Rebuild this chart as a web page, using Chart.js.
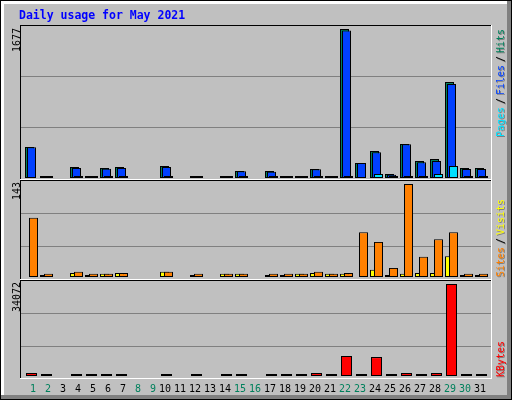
<!DOCTYPE html>
<html>
<head>
<meta charset="utf-8">
<script src="https://cdn.jsdelivr.net/npm/chart.js@4.4.0/dist/chart.umd.min.js"></script>
<style>
  html, body { margin: 0; padding: 0; background: #c0c0c0; }
  #wrap { position: relative; width: 512px; height: 400px; }
  #wrap canvas { position: absolute; left: 0; top: 0; }
</style>
</head>
<body>
<div id="wrap">
  <canvas id="c1" width="512" height="400"></canvas>
  <canvas id="c2" width="512" height="400"></canvas>
  <canvas id="c3" width="512" height="400"></canvas>
</div>
<script>
// ---- data (May 2021) ----
const days = [1,2,3,4,5,6,7,8,9,10,11,12,13,14,15,16,17,18,19,20,21,22,23,24,25,26,27,28,29,30,31];
const weekendDays = [1,2,8,9,15,16,22,23,29,30];

const hits   = [349,10,null,124,12,113,124,null,null,135,null,15,null,12,79,null,79,15,15,101,12,1677,169,304,45,383,191,214,1080,113,113];
const files  = [345,5,null,113,6,105,113,null,null,124,null,8,null,6,75,null,71,8,8,98,6,1660,169,289,37,380,177,191,1058,101,101];
const pages  = [null,3,null,8,3,8,8,null,null,8,null,3,null,3,5,null,5,3,3,6,3,8,null,45,5,8,8,45,135,8,8];
const visits = [null,1,null,6,1,5,6,null,null,8,null,1,null,5,5,null,1,1,5,6,5,5,null,11,1,5,6,6,32,1,1];
const sites  = [91,5,null,8,5,5,6,null,null,8,null,5,null,5,5,null,5,5,5,8,5,6,69,54,14,143,31,58,69,5,5];
const kbytes = [1100,300,null,300,300,300,300,null,null,300,null,300,null,300,300,null,300,300,300,1100,300,7400,300,7000,300,1100,300,1100,34072,300,300];

const yMaxLabels = ['1677', '143', '34072'];

// ---- colours ----
const GREY = '#c0c0c0', DKGREY = '#808080';
const HIT = '#00805c', FILE = '#0040ff', PAGE = '#00e0ff';
const VISIT = '#ffff00', SITE = '#ff8000', KBYTE = '#ff0000';
const MONO = '"DejaVu Sans Mono", monospace';

Chart.defaults.animation = false;
Chart.defaults.responsive = false;
Chart.defaults.plugins.legend.display = false;
Chart.defaults.plugins.tooltip.enabled = false;

// plot area is 470px wide, 15px per day
const LEFT = 21, RIGHT = 491, DAY = 15;
function dayAxis(shift, extra) {
  const min = 0.4333 - shift / DAY;
  return Object.assign({
    type: 'linear', display: false, offset: false,
    grid: { offset: false },
    min: min, max: min + (RIGHT - LEFT) / DAY
  }, extra || {});
}

// panel: area top/bottom, pixel of zero, pixel of max value, gridline rows
function valueAxis(maxVal, p) {
  const per = maxVal / (p.base - p.peak);
  return {
    type: 'linear', position: 'left',
    min: -(p.bottom - p.base) * per, max: (p.base - p.top) * per,
    afterFit: s => { s.width = 0; },
    afterBuildTicks: s => { s.ticks = p.grid.map(r => ({ value: (p.base - r - 0.5) * per })); },
    ticks: { display: false },
    grid: { color: DKGREY, drawTicks: false, lineWidth: 1 },
    border: { display: false }
  };
}

function bars(label, data, color, xAxisID, order, width) {
  return {
    label, data, xAxisID, yAxisID: 'y', order,
    backgroundColor: color, borderColor: '#000', borderWidth: 1,
    borderSkipped: false, barThickness: width || 9, minBarLength: 2,
    grouped: false, inflateAmount: 0
  };
}

const p1 = { top: 26, bottom: 179, base: 178, peak: 29, grid: [76, 127] };
const p2 = { top: 181, bottom: 279, base: 277, peak: 184, grid: [213, 246] };
const p3 = { top: 281, bottom: 378, base: 376, peak: 284, grid: [313, 346] };

function rotText(ctx, text, x, y, align) {
  ctx.save();
  ctx.translate(x, y);
  ctx.rotate(-Math.PI / 2);
  ctx.textAlign = align;
  ctx.textBaseline = 'alphabetic';
  ctx.fillText(text, 0, 0);
  ctx.restore();
}

// webalizer style legend, drawn upward with a grey shadow
function legendUp(ctx, parts, y0) {
  let y = y0;
  parts.forEach(part => {
    ctx.fillStyle = DKGREY;
    rotText(ctx, part[0], 505, y + 1, 'left');
    ctx.fillStyle = part[1];
    rotText(ctx, part[0], 504, y, 'left');
    if (part[0] === '/') y -= 9;
    else y -= part[0].length * 6 + 3;
  });
}

const framePlugin = {
  id: 'frame',
  beforeDraw(chart) {
    const ctx = chart.ctx;
    ctx.save();
    ctx.fillStyle = GREY;
    ctx.fillRect(0, 0, 512, 400);
    // outer bevel
    ctx.fillStyle = '#fff';
    ctx.fillRect(1, 1, 506, 3);
    ctx.fillRect(1, 1, 3, 394);
    ctx.fillStyle = DKGREY;
    ctx.fillRect(507, 1, 4, 398);
    ctx.fillRect(1, 395, 510, 4);
    ctx.strokeStyle = '#000';
    ctx.lineWidth = 1;
    ctx.strokeRect(0.5, 0.5, 511, 399);

    // title
    ctx.fillStyle = '#0000ff';
    ctx.font = 'bold 11.5px ' + MONO;
    ctx.textBaseline = 'alphabetic';
    ctx.fillText('Daily usage for May 2021', 19, 19);

    // panel frames
    ctx.fillStyle = '#000';
    ctx.fillRect(20, 25, 1, 354);
    [25, 180, 280].forEach(y => ctx.fillRect(20, y, 471, 1));
    ctx.fillStyle = '#fff';
    ctx.fillRect(491, 25, 1, 354);
    [179, 279, 378].forEach(y => ctx.fillRect(20, y, 472, 1));

    // max values on the left
    ctx.font = '10px ' + MONO;
    ctx.fillStyle = '#000';
    rotText(ctx, yMaxLabels[0], 19.5, 28, 'right');
    rotText(ctx, yMaxLabels[1], 19.5, 182, 'right');
    rotText(ctx, yMaxLabels[2], 19.5, 282, 'right');

    // legends on the right
    legendUp(ctx, [['Pages', PAGE], ['/', '#000'], ['Files', FILE], ['/', '#000'], ['Hits', HIT]], 137);
    legendUp(ctx, [['Sites', SITE], ['/', '#000'], ['Visits', VISIT]], 277);
    legendUp(ctx, [['KBytes', KBYTE]], 377);
    ctx.restore();
  }
};

// panel 1: hits / files / pages
new Chart(document.getElementById('c1'), {
  type: 'bar',
  data: {
    labels: days,
    datasets: [
      bars('Hits', hits, HIT, 'xh', 3),
      bars('Files', files, FILE, 'xf', 2),
      bars('Pages', pages, PAGE, 'xp', 1)
    ]
  },
  options: {
    layout: { padding: { left: LEFT, right: 512 - RIGHT, top: p1.top, bottom: 400 - p1.bottom } },
    scales: { xh: dayAxis(0), xf: dayAxis(2), xp: dayAxis(4), y: valueAxis(1677, p1) }
  },
  plugins: [framePlugin]
});

// panel 2: visits / sites
new Chart(document.getElementById('c2'), {
  type: 'bar',
  data: {
    labels: days,
    datasets: [
      bars('Visits', visits, VISIT, 'xh', 2),
      bars('Sites', sites, SITE, 'xp', 1)
    ]
  },
  options: {
    layout: { padding: { left: LEFT, right: 512 - RIGHT, top: p2.top, bottom: 400 - p2.bottom } },
    scales: { xh: dayAxis(0), xp: dayAxis(4), y: valueAxis(143, p2) }
  }
});

// panel 3: kbytes + day labels
new Chart(document.getElementById('c3'), {
  type: 'bar',
  data: {
    labels: days,
    datasets: [ bars('KBytes', kbytes, KBYTE, 'xf', 1, 11) ]
  },
  options: {
    layout: { padding: { left: LEFT, right: 512 - RIGHT, top: p3.top, bottom: 0 } },
    scales: {
      xf: dayAxis(2),
      xl: dayAxis(0.5, {
        display: true, position: 'bottom',
        grid: { display: false, drawTicks: false, offset: false },
        border: { display: false },
        afterBuildTicks: s => { s.ticks = days.map(d => ({ value: d })); },
        afterFit: s => { s.height = 400 - p3.bottom; },
        ticks: {
          autoSkip: false, maxRotation: 0, padding: 5,
          font: { family: MONO, size: 10 },
          color: c => weekendDays.includes(c.tick.value) ? HIT : '#000',
          callback: v => (v < 10 ? ' ' : '') + v
        }
      }),
      y: valueAxis(34072, p3)
    }
  }
});
</script>
</body>
</html>
